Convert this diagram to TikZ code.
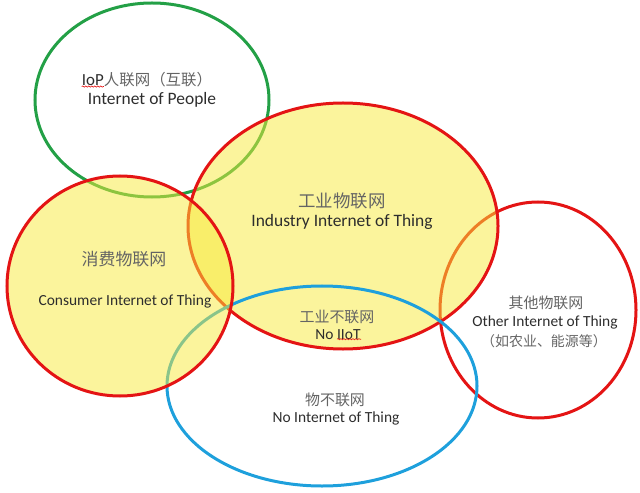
\documentclass[tikz,border=0pt]{standalone}
\usepackage{fontspec}
\setmainfont{Carlito}
\newfontfamily\cjk{Noto Sans CJK SC}
\usetikzlibrary{shapes,decorations.pathmorphing}

\definecolor{ringgreen}{RGB}{35,160,70}
\definecolor{ringred}{RGB}{228,20,20}
\definecolor{ringblue}{RGB}{30,160,220}
\definecolor{areayellow}{RGB}{247,233,57}
\definecolor{entext}{RGB}{45,45,45}
\definecolor{zhtext}{RGB}{100,100,100}

\begin{document}
\begin{tikzpicture}[x=1bp,y=-1bp,
  ring/.style={shape=ellipse,inner sep=0pt,line width=3bp},
  filled/.style={fill=areayellow,fill opacity=0.5,draw opacity=1},
  en/.style={text=entext,font=\fontsize{15.5}{17}\selectfont,inner sep=0pt},
  zh/.style={text=zhtext,font=\cjk\fontsize{15}{17}\selectfont,inner sep=0pt},
  squiggle/.style={draw=ringred,line width=0.6bp,decorate,decoration={snake,amplitude=0.6bp,segment length=3bp}}]
\useasboundingbox (0,0) rectangle (640,493);
\node[ring,draw=ringgreen,minimum width=234bp,minimum height=194bp] (0) at (152,100) {};
\node[ring,draw=ringred,minimum width=196bp,minimum height=216bp] (1) at (538,310) {};
\node[ring,filled,draw=ringred,minimum width=310bp,minimum height=246bp] (2) at (343,226) {};
\node[ring,draw=ringblue,minimum width=310bp,minimum height=200bp] (3) at (322,386) {};
\node[ring,filled,draw=ringred,minimum width=226bp,minimum height=220bp] (4) at (120,286) {};

\node[zh,font=\cjk\fontsize{15.5}{17}\selectfont] (5) at (147,80) {{\rmfamily\fontsize{17}{19}\selectfont\color{entext}IoP}人联网（互联）};
\node[en,font=\fontsize{17.5}{19}\selectfont] (6) at (152,100) {Internet of People};
\node[zh,font=\cjk\fontsize{17.5}{19}\selectfont] (7) at (342,201) {工业物联网};
\node[en,font=\fontsize{17.5}{19}\selectfont] (8) at (342,222) {Industry Internet of Thing};
\node[zh,font=\cjk\fontsize{17}{19}\selectfont] (9) at (124,259) {消费物联网};
\node[en] (10) at (125,301) {Consumer Internet of Thing};
\node[zh] (11) at (337,317) {工业不联网};
\node[en] (12) at (338,335) {No IIoT};
\node[zh] (13) at (335,400) {物不联网};
\node[en] (14) at (336,418) {No Internet of Thing};
\node[zh] (15) at (546,303) {其他物联网};
\node[en] (16) at (545,322) {Other Internet of Thing};
\node[zh,font=\cjk\fontsize{14}{16}\selectfont] (17) at (544,341) {（如农业、能源等）};

\draw[squiggle] ([yshift=1bp]5.south west) -- ++(22,0);
\draw[squiggle] ([xshift=-1bp,yshift=1bp]12.south) -- ++(24,0);
\end{tikzpicture}
\end{document}
